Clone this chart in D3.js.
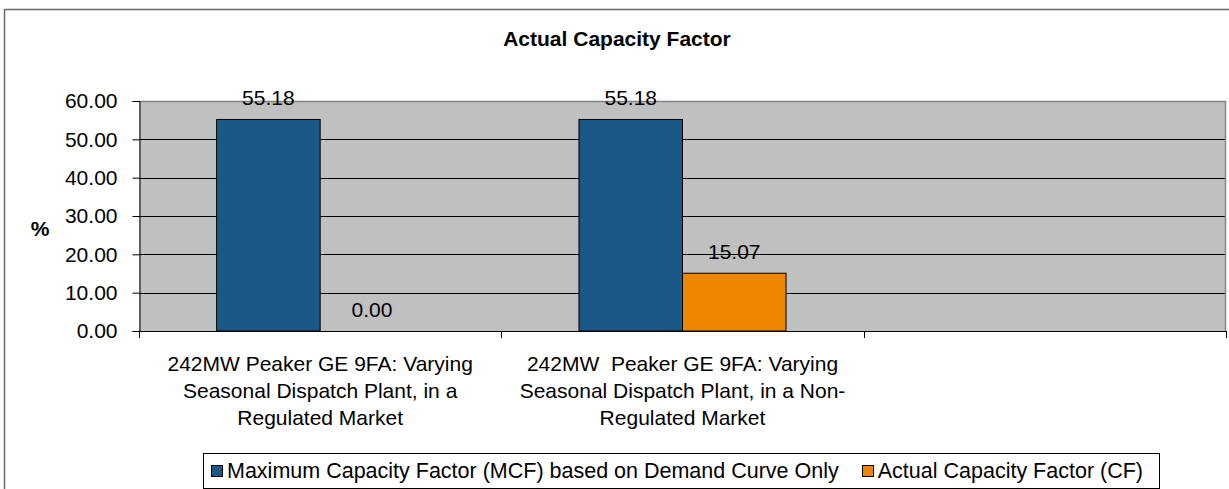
<!DOCTYPE html>
<html>
<head>
<meta charset="utf-8">
<script src="https://cdn.jsdelivr.net/npm/d3@7"></script>
<style>
  html, body { margin: 0; padding: 0; background: #fff; }
  svg { display: block; font-family: "Liberation Sans", Arial, sans-serif; }
</style>
</head>
<body>
<svg id="chart" width="1229" height="489"></svg>
<script>
// Chart data
const categories = [
  ["242MW Peaker GE 9FA: Varying", "Seasonal Dispatch Plant, in a", "Regulated Market"],
  ["242MW  Peaker GE 9FA: Varying", "Seasonal Dispatch Plant, in a Non-", "Regulated Market"],
  [""]
];
const seriesNames = [
  "Maximum Capacity Factor (MCF) based on Demand Curve Only",
  "Actual Capacity Factor (CF)"
];
const mcfValues = [55.18, 55.18, null];
const cfValues = [0.00, 15.07, null];
const yTicks = [0, 10, 20, 30, 40, 50, 60];
const colors = ["#1a5888", "#ec8500"];

const svg = d3.select("#chart");
const W = 1229, H = 489;
const plot = { left: 139, right: 1226, top: 101, bottom: 331 };
const font = 21;

// outer chart frame
svg.append("rect")
  .attr("x", 4.5).attr("y", 9.5)
  .attr("width", W + 20).attr("height", H + 20)
  .attr("fill", "#fff").attr("stroke", "#6a6a6a").attr("stroke-width", 1.5);

// title
svg.append("text")
  .attr("x", 617).attr("y", 46)
  .attr("text-anchor", "middle")
  .attr("font-weight", "bold").attr("font-size", font)
  .text("Actual Capacity Factor");

// scales
const catKeys = categories.map((c, i) => "c" + i);
const x0 = d3.scaleBand().domain(catKeys).range([plot.left, plot.right]).padding(0);
const bw = x0.bandwidth();
const barW = bw / 3.5;
const x1 = d3.scaleBand().domain([0, 1]).range([0, 2 * barW]).padding(0);
const y = d3.scaleLinear().domain([0, 60]).range([plot.bottom, plot.top]);

// plot area
svg.append("rect")
  .attr("x", plot.left).attr("y", plot.top)
  .attr("width", plot.right - plot.left).attr("height", plot.bottom - plot.top)
  .attr("fill", "#c0c0c0");

// gridlines
svg.append("g").selectAll("line")
  .data(yTicks.filter(t => t > 0 && t < 60))
  .join("line")
  .attr("x1", plot.left).attr("x2", plot.right)
  .attr("y1", d => Math.round(y(d)) + 0.5).attr("y2", d => Math.round(y(d)) + 0.5)
  .attr("stroke", "#000").attr("stroke-width", 1);

// plot border top/right
svg.append("path")
  .attr("d", `M${plot.left},${plot.top + 0.5}H${plot.right - 0.5}V${plot.bottom}`)
  .attr("fill", "none").attr("stroke", "#848484").attr("stroke-width", 1.5);

// bars
const series = [mcfValues, cfValues];
const barData = [];
categories.forEach((c, i) => {
  series.forEach((vals, s) => {
    if (vals[i] != null) barData.push({ cat: catKeys[i], s, v: vals[i] });
  });
});
const groupOffset = (bw - 2 * barW) / 2;

svg.append("g").selectAll("rect")
  .data(barData.filter(d => d.v > 0))
  .join("rect")
  .attr("x", d => x0(d.cat) + groupOffset + x1(d.s))
  .attr("y", d => y(d.v))
  .attr("width", x1.bandwidth())
  .attr("height", d => y(0) - y(d.v))
  .attr("fill", d => colors[d.s])
  .attr("stroke", "#000").attr("stroke-width", 1);

// value labels
svg.append("g").selectAll("text")
  .data(barData)
  .join("text")
  .attr("x", d => x0(d.cat) + groupOffset + x1(d.s) + x1.bandwidth() / 2)
  .attr("y", d => y(d.v) - 14)
  .attr("text-anchor", "middle")
  .attr("font-size", font)
  .text(d => d.v.toFixed(2));

// y axis
const yAxis = d3.axisLeft(y).tickValues(yTicks).tickFormat(d3.format(".2f")).tickSize(7).tickPadding(15);
const gy = svg.append("g").attr("transform", `translate(${plot.left + 0.5},0)`).call(yAxis);
gy.select(".domain").attr("stroke", "#000");
gy.selectAll(".tick line").attr("stroke", "#000");
gy.selectAll(".tick text")
  .attr("font-size", font).attr("font-family", "Liberation Sans, Arial, sans-serif")
  .attr("fill", "#000");

// x axis line with category dividers
svg.append("line")
  .attr("x1", plot.left).attr("x2", plot.right)
  .attr("y1", plot.bottom + 0.5).attr("y2", plot.bottom + 0.5)
  .attr("stroke", "#000").attr("stroke-width", 1);
const dividers = catKeys.map(k => x0(k)).concat([plot.right]);
svg.append("g").selectAll("line")
  .data(dividers)
  .join("line")
  .attr("x1", d => Math.round(d) + 0.5).attr("x2", d => Math.round(d) + 0.5)
  .attr("y1", plot.bottom).attr("y2", plot.bottom + 7)
  .attr("stroke", "#000");

// category labels
const lineBase = [371, 398, 425];
categories.forEach((lines, i) => {
  const t = svg.append("text")
    .attr("text-anchor", "middle")
    .attr("font-size", font)
    .attr("xml:space", "preserve")
    .style("white-space", "pre");
  lines.forEach((ln, j) => {
    t.append("tspan")
      .attr("x", x0(catKeys[i]) + bw / 2)
      .attr("y", lineBase[j])
      .text(ln);
  });
});

// y axis title
svg.append("text")
  .attr("x", 40).attr("y", 236)
  .attr("text-anchor", "middle")
  .attr("font-weight", "bold").attr("font-size", font)
  .text("%");

// legend: first entry left-aligned, second entry right-aligned inside the box
const legend = svg.append("g");
const lgBox = { x: 203.5, y: 453.5, w: 956, h: 35 };
const lgFont = 21.5;
legend.append("rect")
  .attr("x", lgBox.x).attr("y", lgBox.y)
  .attr("width", lgBox.w).attr("height", lgBox.h)
  .attr("fill", "#fff").attr("stroke", "#000").attr("stroke-width", 1);

const t1 = legend.append("text")
  .attr("x", 227).attr("y", 478)
  .attr("font-size", lgFont)
  .text(seriesNames[0]);
legend.append("rect")
  .attr("x", 211.5).attr("y", 465.5)
  .attr("width", 11).attr("height", 11)
  .attr("fill", colors[0]).attr("stroke", "#000");

const t2 = legend.append("text")
  .attr("y", 478)
  .attr("font-size", lgFont)
  .text(seriesNames[1]);
const t2w = t2.node().getComputedTextLength();
const t2x = 1143 - t2w;
t2.attr("x", t2x);
legend.append("rect")
  .attr("x", Math.round(t2x - 16) + 0.5).attr("y", 465.5)
  .attr("width", 11).attr("height", 11)
  .attr("fill", colors[1]).attr("stroke", "#000");
</script>
</body>
</html>
